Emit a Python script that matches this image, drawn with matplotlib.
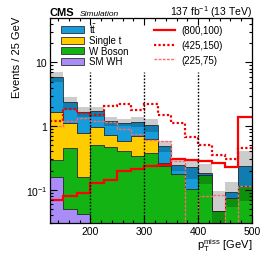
import matplotlib
matplotlib.use('Agg')
import matplotlib.pyplot as plt
import numpy as np
from matplotlib.patches import Patch
from matplotlib.lines import Line2D
from matplotlib.ticker import FixedLocator, FixedFormatter, LogLocator, MultipleLocator, NullFormatter

plt.rcParams['font.family'] = ['Liberation Sans', 'DejaVu Sans']
plt.rcParams['mathtext.fontset'] = 'custom'
plt.rcParams['mathtext.rm'] = 'Liberation Sans'
plt.rcParams['mathtext.it'] = 'Liberation Sans:italic'
plt.rcParams['mathtext.bf'] = 'Liberation Sans:bold'

# ptmiss bins, 25 GeV wide
edges = [125, 150, 175, 200, 225, 250, 275, 300, 325, 350, 375, 400, 425, 450, 475, 500]

# backgrounds (stacked, bottom -> top)
sm_wh = [0.158, 0.050, 0.041, 0, 0, 0, 0, 0, 0, 0, 0, 0, 0, 0, 0]
w_boson = [0.136, 0.408, 0.120, 0.505, 0.465, 0.400, 0.340, 0.380, 0.240, 0.176, 0.103, 0.171, 0.046, 0.074, 0.116]
single_t = [1.376, 0.640, 0.625, 0.470, 0.255, 0.177, 0.360, 0.247, 0.020, 0, 0, 0, 0, 0, 0]
ttbar = [4.33, 1.25, 0.884, 0.735, 0.480, 0.553, 0.480, 0.413, 0.227, 0.070, 0.123, 0.015, 0, 0.018, 0.121]
bkg_unc = [1.05, 0.55, 0.30, 0.30, 0.20, 0.14, 0.20, 0.23, 0.10, 0.05, 0.08, 0.064, 0.048, 0.038, 0.17]

# signal points (m_stop, m_LSP)
sig_800_100 = [0.068, 0.081, 0.089, 0.127, 0.143, 0.200, 0.210, 0.237, 0.246, 0.300, 0.295, 0.285, 0.265, 0.226, 1.37]
sig_425_150 = [1.20, 1.85, 1.60, 1.50, 2.05, 2.20, 1.80, 2.20, 1.47, 1.11, 0.67, 0.51, 0.35, 0.30, 0.46]
sig_225_75 = [1.00, 1.22, 1.35, 1.20, 1.15, 0.90, 0.75, 0.60, 0.58, 0.28, 0.001, 0.079, 0.083, 0.001, 0.113]

cuts = [200, 300, 400]

fig = plt.figure(figsize=(2.66, 2.55), dpi=100)
ax = fig.add_axes([0.188, 0.1216, 0.759, 0.804])
ax.set_yscale('log')

bkg = [(sm_wh, '#a98cf5', 'SM WH'), (w_boson, '#12b312', 'W Boson'),
       (single_t, '#ffcc00', 'Single t'), (ttbar, '#169cdb', r'$\mathrm{t\bar{t}}$')]
bottom = np.full(len(sm_wh), 1e-4)
for vals, col, lab in bkg:
    top = bottom + np.array(vals)
    ax.stairs(top, edges, baseline=bottom, fill=True, facecolor=col,
              edgecolor='#303030', linewidth=0.6)
    bottom = top

total = bottom
unc = np.array(bkg_unc)
ax.stairs(total + unc, edges, baseline=np.clip(total - unc, 1e-4, None), fill=True,
          facecolor='black', alpha=0.2, linewidth=0)

ax.vlines(cuts, 0.03, 7, colors='black', linestyles=(0, (1.2, 1.2)), linewidth=1)

ax.stairs(sig_800_100, edges, baseline=None, color='#ff0000', linewidth=1.6)
ax.stairs(sig_425_150, edges, baseline=None, color='#ee0000', linewidth=1.6, linestyle=(0, (1, 1)))
ax.stairs(sig_225_75, edges, baseline=None, color='#ff6a6a', linewidth=1.0, linestyle=(0, (2, 1)))

ax.set_xlim(125, 500)
ax.set_ylim(0.03, 50)
ax.xaxis.set_major_locator(FixedLocator([200, 300, 400, 500]))
ax.xaxis.set_minor_locator(MultipleLocator(20))
ax.yaxis.set_major_locator(FixedLocator([0.1, 1, 10]))
ax.yaxis.set_major_formatter(FixedFormatter(['$10^{-1}$', '1', '10']))
ax.yaxis.set_minor_locator(LogLocator(subs=np.arange(2, 10)))
ax.yaxis.set_minor_formatter(NullFormatter())
ax.tick_params(which='both', direction='in', top=True, right=True, labelsize=7.5, width=0.8)
ax.tick_params(which='major', length=5, pad=2)
ax.tick_params(which='minor', length=2.5)
for s in ax.spines.values():
    s.set_linewidth(0.9)

h1 = [Patch(facecolor=c, edgecolor='#303030', linewidth=0.6) for _, c, _ in bkg[::-1]]
l1 = [lab for _, _, lab in bkg[::-1]]
leg1 = ax.legend(h1, l1, loc='upper left', bbox_to_anchor=(0.055, 0.985), frameon=False,
                 fontsize=7, handlelength=2.4, handleheight=0.75, labelspacing=0.05,
                 handletextpad=0.5, borderaxespad=0, borderpad=0)
ax.add_artist(leg1)

h2 = [Line2D([], [], color='#ff0000', lw=1.6),
      Line2D([], [], color='#ee0000', lw=1.6, ls=(0, (1, 1))),
      Line2D([], [], color='#ff6a6a', lw=1.0, ls=(0, (2, 1)))]
ax.legend(h2, ['(800,100)', '(425,150)', '(225,75)'], loc='upper left',
          bbox_to_anchor=(0.515, 0.965), frameon=False, fontsize=7, handlelength=2.2,
          labelspacing=0.5, handletextpad=0.6, borderaxespad=0, borderpad=0)

fig.text(50 / 266, 1 - 16 / 255, 'CMS', weight='bold', fontsize=8, va='baseline')
fig.text(80 / 266, 1 - 16 / 255, 'Simulation', style='italic', fontsize=6, va='baseline')
fig.text(252 / 266, 1 - 16 / 255, r'137 fb$^{-1}$ (13 TeV)', ha='right', fontsize=7.5, va='baseline')
fig.text(17 / 266, 1 - 17 / 255, 'Events / 25 GeV', rotation=90, ha='center', va='top', fontsize=8)
fig.text(252 / 266, 1 - 249 / 255, r'$\mathrm{p_{T}^{miss}}$ [GeV]', ha='right', va='baseline', fontsize=8)

fig.savefig('out.png', dpi=100)
